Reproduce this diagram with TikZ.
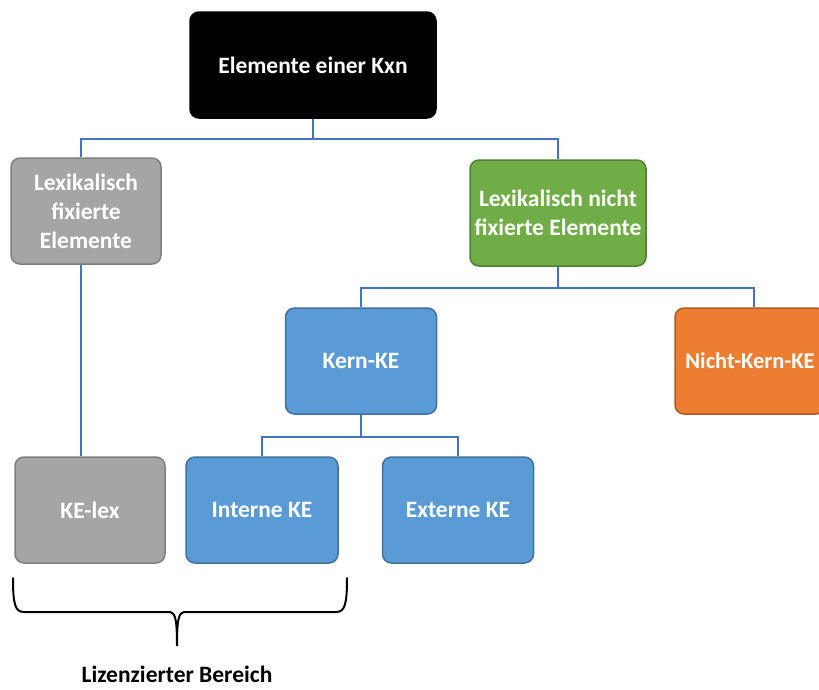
\documentclass[tikz,border=0pt]{standalone}
\usepackage{fontspec}
\setmainfont{Carlito}
\usepackage{xcolor}
\usepackage{tikz}

\definecolor{kxgray}{HTML}{A5A5A5}
\definecolor{kxgrayline}{HTML}{7F7F7F}
\definecolor{kxgreen}{HTML}{70AD47}
\definecolor{kxgreenline}{HTML}{507E32}
\definecolor{kxblue}{HTML}{5B9BD5}
\definecolor{kxblueline}{HTML}{41719C}
\definecolor{kxorange}{HTML}{ED7D31}
\definecolor{kxorangeline}{HTML}{AE5A21}
\definecolor{kxlink}{HTML}{4472C4}

\begin{document}
\begin{tikzpicture}[x=1pt,y=-1pt,
	box/.style={rectangle,rounded corners=9pt,line width=1.5pt,minimum height=106pt,inner sep=2pt,
		text=white,align=center,font=\bfseries\fontsize{23.5}{29}\selectfont},
	graybox/.style={box,fill=kxgray,draw=kxgrayline},
	greenbox/.style={box,fill=kxgreen,draw=kxgreenline},
	bluebox/.style={box,fill=kxblue,draw=kxblueline},
	orangebox/.style={box,fill=kxorange,draw=kxorangeline},
	link/.style={draw=kxlink,line width=2.2pt}]
	\useasboundingbox (0,0) rectangle (819,689);
	\node[box,fill=black,draw=black,minimum width=246pt] (kxn) at (313,65) {Elemente einer Kxn};
	\node[graybox,minimum width=150pt] (fix) at (86,211) {Lexikalisch\\fixierte\\Elemente};
	\node[greenbox,minimum width=176pt] (nfix) at (558,213) {Lexikalisch nicht\\fixierte Elemente};
	\node[bluebox,minimum width=151pt] (kern) at (361,361) {Kern-KE};
	\node[orangebox,minimum width=150pt,font=\bfseries\fontsize{22.5}{29}\selectfont] (nkern) at (750,361) {Nicht-Kern-KE};
	\node[graybox,minimum width=150pt] (kelex) at (90,510) {KE-lex};
	\node[bluebox,minimum width=152pt] (intern) at (262,510) {Interne KE};
	\node[bluebox,minimum width=151pt] (extern) at (458,510) {Externe KE};
	\draw[link] (kxn.south) -- ++(0,20) coordinate (j1);
	\draw[link] (j1) -| ([xshift=-5pt]fix.north);
	\draw[link] (j1) -| (nfix.north);
	\draw[link] ([xshift=-5pt]fix.south) -- ([xshift=-5pt]fix.south |- kelex.north);
	\draw[link] (nfix.south) -- ++(0,21) coordinate (j2);
	\draw[link] (j2) -| (kern.north);
	\draw[link] (j2) -| ([xshift=4pt]nkern.north);
	\draw[link] (kern.south) -- ++(0,22) coordinate (j3);
	\draw[link] (j3) -| (intern.north);
	\draw[link] (j3) -| (extern.north);
	\coordinate (bl) at (13,578);
	\coordinate (br) at (347,578);
	\coordinate (tip) at (177,646);
	\draw[line width=2pt,line cap=round] (bl) .. controls (13,604) and (15,612) .. (24,612)
		-- (168,612) .. controls (175,612) and (177,616) .. (tip)
		.. controls (177,616) and (179,612) .. (186,612)
		-- (336,612) .. controls (345,612) and (347,604) .. (br);
	\node[font=\bfseries\fontsize{23.5}{28}\selectfont,inner sep=1pt] (bereich) at (177,674) {Lizenzierter Bereich};
\end{tikzpicture}
\end{document}
